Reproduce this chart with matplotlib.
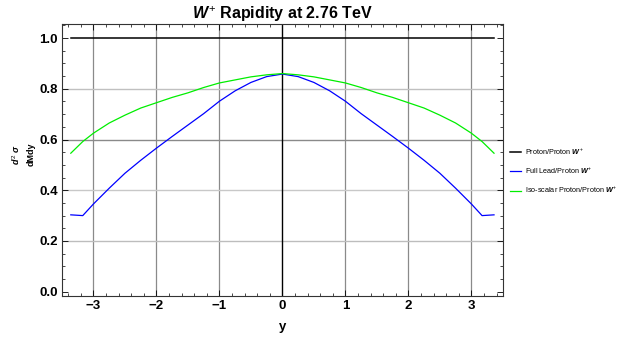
import numpy as np
import matplotlib
matplotlib.use("Agg")
import matplotlib.pyplot as plt
from matplotlib.ticker import MultipleLocator

# --- Data ---
y_left = [-3.36, -3.17, -3.0, -2.75, -2.5, -2.25, -2.0, -1.75, -1.5, -1.25,
          -1.0, -0.75, -0.5, -0.25, 0.0]
lead_left = [0.303, 0.300, 0.346, 0.408, 0.467, 0.518, 0.566, 0.612, 0.657, 0.702,
             0.751, 0.792, 0.825, 0.848, 0.858]
iso_left = [0.546, 0.592, 0.625, 0.665, 0.696, 0.724, 0.745, 0.766, 0.784, 0.805,
            0.823, 0.835, 0.847, 0.855, 0.860]

rapidity = np.array(y_left + [-v for v in y_left[-2::-1]])
lead = np.array(lead_left + lead_left[-2::-1])
iso = np.array(iso_left + iso_left[-2::-1])
pp = np.ones_like(rapidity)

labels = [r"Proton/Proton $W^{+}$", r"Full Lead/Proton $W^{+}$",
          r"Iso-scalar Proton/Proton $W^{+}$"]

plt.rcParams['font.family'] = ['Liberation Sans', 'DejaVu Sans']
plt.rcParams['mathtext.fontset'] = 'custom'
plt.rcParams['mathtext.it'] = 'Liberation Sans:italic:bold'
plt.rcParams['mathtext.rm'] = 'Liberation Sans'

fig = plt.figure(figsize=(6.28, 3.43), dpi=100)
ax = fig.add_axes([0.0987, 0.137, 0.702, 0.792])

ax.plot(rapidity, pp, color="black", lw=1.1, label=labels[0])
ax.plot(rapidity, lead, color="#0000ff", lw=0.9, label=labels[1])
ax.plot(rapidity, iso, color="#00ee00", lw=0.9, label=labels[2])

ax.set_xlim(-3.5, 3.5)
ax.set_ylim(-0.017, 1.054)

# grid like Mathematica
for xv in [-3, -2, -1, 1, 2, 3]:
    ax.axvline(xv, color="#8a8a8a", lw=0.9, zorder=0)
for yv, c in [(0.2, "#bdbdbd"), (0.4, "#c8c8c8"), (0.6, "#8a8a8a"), (0.8, "#c0c0c0")]:
    ax.axhline(yv, color=c, lw=1.0, zorder=0)
ax.axvline(0, color="black", lw=1.0, zorder=0)

ax.xaxis.set_major_locator(MultipleLocator(1))
ax.xaxis.set_minor_locator(MultipleLocator(0.2))
ax.yaxis.set_major_locator(MultipleLocator(0.2))
ax.yaxis.set_minor_locator(MultipleLocator(0.05))
ax.set_xticks([-3, -2, -1, 0, 1, 2, 3])
ax.set_xticklabels(["\u22123", "\u22122", "\u22121", "0", "1", "2", "3"])
ax.set_yticklabels([f"{v:.1f}" for v in ax.get_yticks()])
ax.tick_params(which="major", direction="in", length=4, width=0.6, labelsize=9.5,
               top=True, right=True, pad=3)
ax.tick_params(which="minor", direction="in", length=2, width=0.5, top=True, right=True)
for lab in ax.get_xticklabels() + ax.get_yticklabels():
    lab.set_fontweight("bold")
for s in ax.spines.values():
    s.set_linewidth(0.8)
    s.set_color("#333333")

ax.set_xlabel("y", fontsize=9.5, fontweight="bold", labelpad=6)
fig.text(0.037, 0.55, "$d^{2}\\ \\sigma$\ndMdy", rotation=90, fontsize=6.5,
         fontweight="bold", ha="center", va="center", linespacing=1.6)
ax.set_title(r"$W^{+}$ Rapidity at 2.76 TeV", fontsize=11.5, fontweight="bold", pad=2)

ax.legend(loc="center left", bbox_to_anchor=(1.0, 0.461), frameon=False,
          fontsize=5.2, handlelength=1.55, labelspacing=1.26, handletextpad=0.55,
          borderaxespad=0.6)

fig.savefig("out.png", dpi=100)
